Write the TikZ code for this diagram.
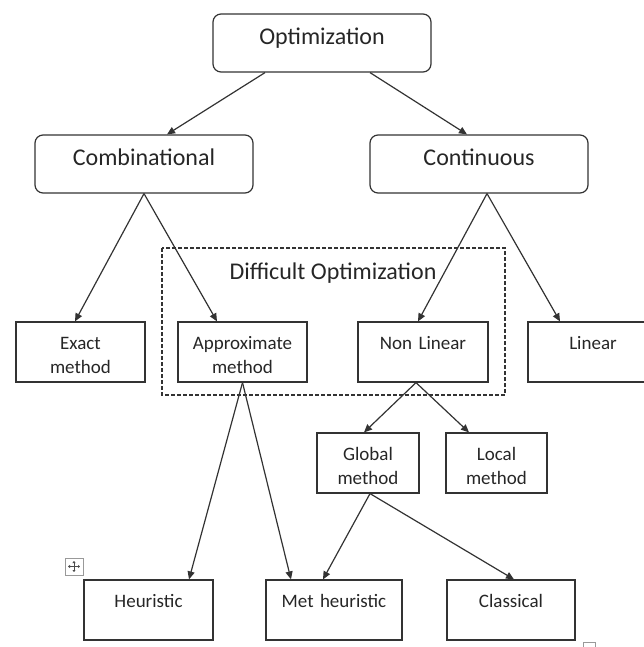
\documentclass[tikz,border=0pt]{standalone}
\usepackage{fontspec}
\setmainfont{Carlito}
\usetikzlibrary{arrows.meta}
\definecolor{ink}{HTML}{333333}

\begin{document}
\begin{tikzpicture}[x=1pt,y=-1pt,
  bigbox/.style={draw=ink,line width=1.2pt,rounded corners=8pt,inner sep=0pt,minimum width=218pt,text height=31pt,text depth=27pt,text=black!85,font=\fontsize{24}{29}\selectfont},
  smallbox/.style={draw=ink,line width=1.2pt,inner sep=0pt,text width=129pt,align=center,text height=27pt,text depth=33pt,text=black!85,font=\fontsize{19}{24}\selectfont},
  arr/.style={draw=ink,line width=1.2pt,-{Triangle[length=8pt,width=7pt]}}]
  \useasboundingbox (0,0) rectangle (643,647);
  \node[bigbox] (opt) at (322,43) {Optimization};
  \node[bigbox] (comb) at (144,164) {Combinational}; \node[bigbox] (cont) at (479,164) {Continuous};
  \draw[ink,line width=1.6pt,dash pattern=on 4pt off 2pt] (162,248) rectangle (505,395);
  \node[anchor=base,text=black!85,font=\fontsize{24}{29}\selectfont] (difficult) at (333,279) {Difficult Optimization};
  \node[smallbox] (exact) at (80.5,352) {Exact\\method}; \node[smallbox] (approx) at (242.5,352) {Approximate\\method};
  \node[smallbox,text width=130pt] (nonlin) at (423,352) {Non Linear}; \node[smallbox,text width=130pt] (linear) at (593,352) {Linear};
  \node[smallbox,text width=102pt] (global) at (368,463) {Global\\method}; \node[smallbox,text width=101pt] (local) at (496.5,463) {Local\\method};
  \node[smallbox] (heur) at (148.5,610) {Heuristic}; \node[smallbox,text width=136pt] (meta) at (334,610) {Met heuristic}; \node[smallbox,text width=128pt] (classic) at (511,610) {Classical};
  \draw[arr] ([xshift=-57pt]opt.south) -- ([xshift=23pt]comb.north); \draw[arr] ([xshift=48pt]opt.south) -- ([xshift=-12pt]cont.north);
  \draw[arr] (comb.south) -- ([xshift=-5.5pt]exact.north); \draw[arr] (comb.south) -- ([xshift=-25.5pt]approx.north);
  \draw[arr] ([xshift=8pt]cont.south) -- ([xshift=-5pt]nonlin.north); \draw[arr] ([xshift=8pt]cont.south) -- ([xshift=-33pt]linear.north);
  \draw[arr] ([xshift=-7pt]nonlin.south) -- ([xshift=-4pt]global.north); \draw[arr] ([xshift=-7pt]nonlin.south) -- ([xshift=-27.5pt]local.north);
  \draw[arr] (approx.south) -- ([xshift=40.5pt]heur.north); \draw[arr] (approx.south) -- ([xshift=-43pt]meta.north);
  \draw[arr] ([xshift=2pt]global.south) -- ([xshift=-11pt]meta.north); \draw[arr] ([xshift=2pt]global.south) -- ([xshift=3pt]classic.north);
  \draw[black!40,line width=0.8pt] (65,558) rectangle (83,575); \draw[black!70,line width=0.8pt,{Triangle[length=2pt,width=3pt]}-{Triangle[length=2pt,width=3pt]}] (68,566.5) -- (80,566.5); \draw[black!70,line width=0.8pt,{Triangle[length=2pt,width=3pt]}-{Triangle[length=2pt,width=3pt]}] (74,561) -- (74,572);
  \draw[black!40,line width=0.8pt] (583,642) rectangle (595,652);
\end{tikzpicture}
\end{document}
